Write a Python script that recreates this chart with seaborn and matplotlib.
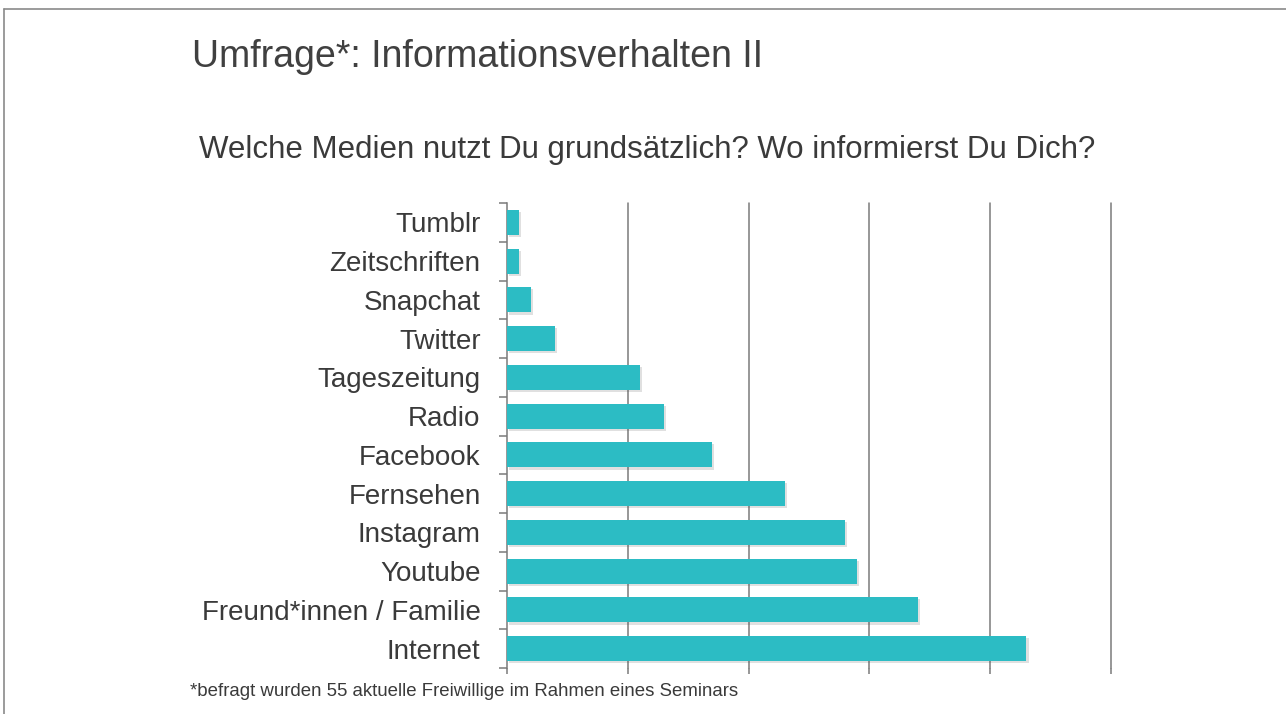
import matplotlib
matplotlib.use("Agg")
import matplotlib.pyplot as plt
import matplotlib.patheffects as pe
from matplotlib.lines import Line2D
import seaborn as sns
import pandas as pd
import numpy as np

categories = ["Tumblr", "Zeitschriften", "Snapchat", "Twitter", "Tageszeitung", "Radio",
              "Facebook", "Fernsehen", "Instagram", "Youtube", "Freund*innen / Familie", "Internet"]
counts = [1, 1, 2, 4, 11, 13, 17, 23, 28, 29, 34, 43]
grid_values = [10, 20, 30, 40, 50]

title = "Umfrage*: Informationsverhalten II"
subtitle = "Welche Medien nutzt Du grundsätzlich? Wo informierst Du Dich?"
footnote = "*befragt wurden 55 aktuelle Freiwillige im Rahmen eines Seminars"

sns.set_theme(style="white")
plt.rcParams["font.family"] = ["Liberation Sans", "DejaVu Sans"]

df = pd.DataFrame({"Medium": categories, "Anzahl": counts})

fig = plt.figure(figsize=(12.86, 7.14), dpi=100)
ax = fig.add_axes([507/1286, 1-668/714, (1111-507)/1286, (668-203)/714])

sns.barplot(data=df, y="Medium", x="Anzahl", order=categories, orient="h",
            color="#2CBCC4", saturation=1, width=0.65, ax=ax, zorder=3)
for p in ax.patches:
    p.set_path_effects([pe.SimplePatchShadow(offset=(1.5, -1.5), alpha=0.18, shadow_rgbFace="#555555"),
                        pe.Normal()])
    p.set_edgecolor("none")

ax.set_xlim(0, 50)
ax.set_ylim(len(categories) - 0.5, -0.5)
ax.set_xlabel("")
ax.set_ylabel("")

for g in grid_values:
    ax.axvline(g, color="#7a7a7a", lw=1.1, zorder=1, clip_on=False)

for s in ["top", "right", "bottom"]:
    ax.spines[s].set_visible(False)
ax.spines["left"].set_color("#7a7a7a")
ax.spines["left"].set_linewidth(1.1)

ax.set_xticks([0] + grid_values)
ax.set_xticklabels([])
ax.tick_params(axis="x", which="major", bottom=True, length=4, color="#7a7a7a", width=1.1, direction="out")
ax.tick_params(axis="y", which="major", length=0, pad=19, labelsize=20, labelcolor="#3a3a3a")
ax.set_yticks(np.arange(-0.5, len(categories), 1.0), minor=True)
ax.tick_params(axis="y", which="minor", left=True, length=6, color="#7a7a7a", width=1.1, direction="out")

fig.text(192/1286, 1-57/714, title, fontsize=27, color="#404040", ha="left", va="center")
fig.text(199/1286, 1-150/714, subtitle, fontsize=22.5, color="#3a3a3a", ha="left", va="center")
fig.text(190/1286, 1-692/714, footnote, fontsize=13.4, color="#3a3a3a", ha="left", va="center")

fig.add_artist(Line2D([4/1286, 1.0], [1-9/714, 1-9/714], transform=fig.transFigure, color="#8a8a8a", lw=1.2))
fig.add_artist(Line2D([4/1286, 4/1286], [0.0, 1-9/714], transform=fig.transFigure, color="#8a8a8a", lw=1.2))

fig.savefig("out.png", dpi=100, facecolor="white")
